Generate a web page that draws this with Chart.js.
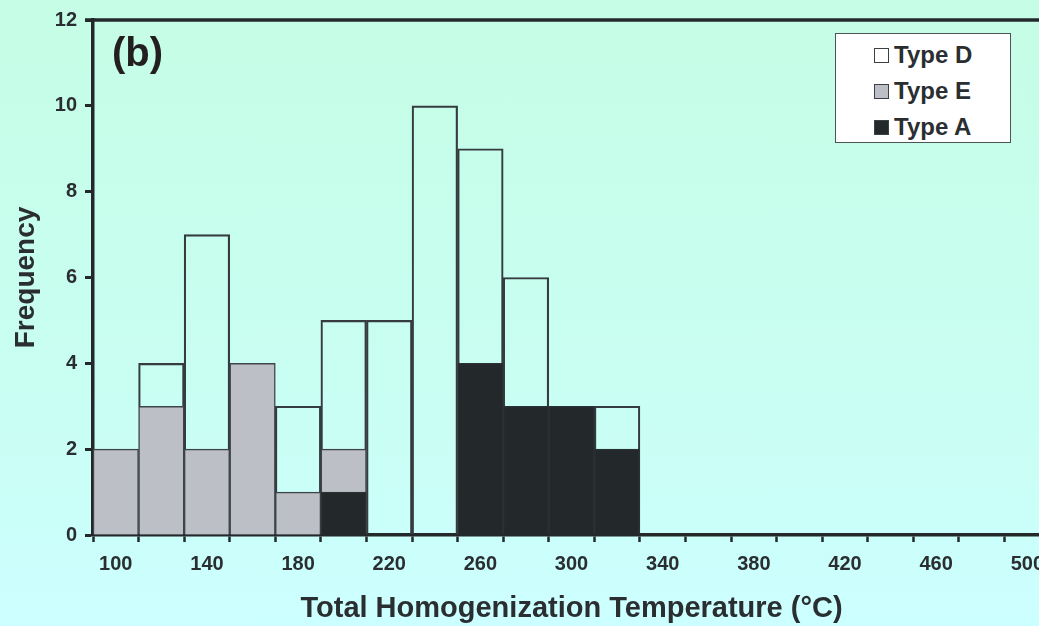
<!DOCTYPE html>
<html>
<head>
<meta charset="utf-8">
<script src="https://cdn.jsdelivr.net/npm/chart.js@4/dist/chart.umd.min.js"></script>
<style>
  html, body {
    margin: 0;
    padding: 0;
    width: 1039px;
    height: 626px;
    overflow: hidden;
    background: linear-gradient(to bottom, #c5fde6 0%, #c8feef 50%, #ccffff 100%);
    font-family: "Liberation Sans", Arial, sans-serif;
  }
  #wrap {
    position: absolute;
    left: 0;
    top: 0;
    width: 1054px;
    height: 626px;
  }
  #panel-label {
    position: absolute;
    left: 112px;
    top: 30px;
    font-size: 40px;
    font-weight: bold;
    color: #231f20;
  }
  #legend {
    position: absolute;
    left: 835px;
    top: 33px;
    width: 176px;
    height: 110px;
    background: #ffffff;
    border: 1px solid #4d5456;
    box-sizing: border-box;
    padding-top: 3px;
  }
  .legend-row {
    display: flex;
    align-items: center;
    height: 36px;
    padding-left: 38px;
    font-size: 24px;
    font-weight: bold;
    color: #2a2e31;
  }
  .swatch {
    width: 13px;
    height: 13px;
    border: 1px solid #3a4043;
    margin-right: 5px;
  }
</style>
</head>
<body>
<div id="wrap"><canvas id="chart"></canvas></div>
<div id="panel-label">(b)</div>
<div id="legend"></div>
<script>
const binLabels = ["100", "120", "140", "160", "180", "200", "220", "240", "260", "280", "300",
  "320", "340", "360", "380", "400", "420", "440", "460", "480", "500"];

const typeA = [0, 0, 0, 0, 0, 1, 0, 0, 4, 3, 3, 2, 0, 0, 0, 0, 0, 0, 0, 0, 0];
const typeE = [2, 3, 2, 4, 1, 1, 0, 0, 0, 0, 0, 0, 0, 0, 0, 0, 0, 0, 0, 0, 0];
const typeD = [0, 1, 5, 0, 2, 3, 5, 10, 5, 3, 0, 1, 0, 0, 0, 0, 0, 0, 0, 0, 0];

const yTicks = [0, 2, 4, 6, 8, 10, 12];

const inkColor = "#23282b";
const fontFamily = '"Liberation Sans", Arial, sans-serif';

const legendItems = [
  { label: "Type D", fill: "#ffffff" },
  { label: "Type E", fill: "#bcc0c6" },
  { label: "Type A", fill: "#23282b" },
];

function buildLegend() {
  const box = document.getElementById("legend");
  box.innerHTML = legendItems
    .map(
      (item) => `
      <div class="legend-row">
        <span class="swatch" style="background:${item.fill}"></span>${item.label}
      </div>`
    )
    .join("");
}

// top frame line of the plot
const topLine = {
  id: "topLine",
  afterDraw(chart) {
    const { ctx, chartArea } = chart;
    ctx.save();
    ctx.strokeStyle = inkColor;
    ctx.lineWidth = 3.5;
    ctx.beginPath();
    ctx.moveTo(chartArea.left - 8, chartArea.top);
    ctx.lineTo(chartArea.right + 10, chartArea.top);
    ctx.stroke();
    ctx.restore();
  },
};

function renderChart() {
  const ctx = document.getElementById("chart");
  new Chart(ctx, {
    type: "bar",
    data: {
      labels: binLabels,
      datasets: [
        {
          label: "Type A",
          data: typeA,
          backgroundColor: "#23282b",
          borderColor: "#2b3033",
          borderWidth: 1.5,
        },
        {
          label: "Type E",
          data: typeE,
          backgroundColor: "#bcc0c6",
          borderColor: "#3e4447",
          borderWidth: 1.5,
        },
        {
          label: "Type D",
          data: typeD,
          backgroundColor: "rgba(0,0,0,0)",
          borderColor: "#353b3e",
          borderWidth: 1.5,
        },
      ],
    },
    options: {
      responsive: true,
      maintainAspectRatio: false,
      animation: false,
      categoryPercentage: 1,
      barPercentage: 1,
      layout: { padding: { top: 18, left: 0, right: 0, bottom: 0 } },
      plugins: {
        legend: { display: false },
        tooltip: { enabled: false },
      },
      scales: {
        x: {
          stacked: true,
          afterFit: (scale) => {
            scale.height = 91;
          },
          border: { display: true, color: inkColor, width: 3.5 },
          grid: {
            offset: true,
            drawOnChartArea: false,
            drawTicks: true,
            tickLength: 7,
            tickWidth: 2.5,
            tickColor: inkColor,
            color: inkColor,
          },
          ticks: {
            autoSkip: false,
            maxRotation: 0,
            minRotation: 0,
            padding: 10,
            color: "#2a2e31",
            font: { family: fontFamily, size: 20, weight: "bold" },
            callback: (value, index) => (index % 2 === 0 ? binLabels[index] : ""),
          },
          title: {
            display: true,
            text: "Total Homogenization Temperature (°C)",
            color: "#2a2e31",
            font: { family: fontFamily, size: 29, weight: "bold" },
            padding: { top: 0, bottom: 0 },
          },
        },
        y: {
          stacked: true,
          min: 0,
          max: 12,
          afterFit: (scale) => {
            scale.width = 93;
          },
          afterBuildTicks: (scale) => {
            scale.ticks = yTicks.map((v) => ({ value: v }));
          },
          border: { display: true, color: inkColor, width: 3.5 },
          grid: {
            drawOnChartArea: false,
            drawTicks: true,
            tickLength: 8,
            tickWidth: 3,
            tickColor: inkColor,
            color: inkColor,
          },
          ticks: {
            padding: 8,
            color: "#2a2e31",
            font: { family: fontFamily, size: 20, weight: "bold" },
          },
          title: {
            display: true,
            text: "Frequency",
            color: "#2a2e31",
            font: { family: fontFamily, size: 28, weight: "bold" },
            padding: { top: 9, bottom: 0 },
          },
        },
      },
    },
    plugins: [topLine],
  });
}

document.addEventListener("DOMContentLoaded", () => {
  buildLegend();
  renderChart();
});
</script>
</body>
</html>
